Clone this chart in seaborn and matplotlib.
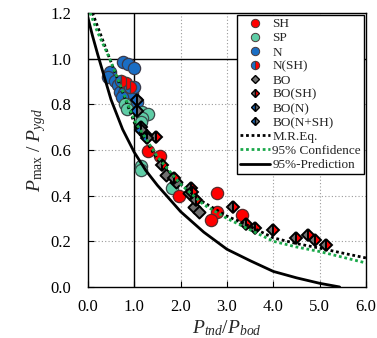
import numpy as np
import matplotlib
matplotlib.use("Agg")
import matplotlib.pyplot as plt
from matplotlib.lines import Line2D
import seaborn as sns

# data
sh_x = [1.30, 1.56, 1.97, 2.78, 2.78, 2.65, 3.33]
sh_y = [0.595, 0.575, 0.40, 0.41, 0.33, 0.295, 0.315]

sp_x = [0.80, 0.84, 1.17, 1.30, 1.17, 1.15, 1.15, 1.15, 1.82]
sp_y = [0.80, 0.78, 0.765, 0.755, 0.74, 0.72, 0.53, 0.51, 0.435]

n_x = [0.75, 0.87, 1.00, 0.47, 0.43, 0.58, 0.64, 0.70, 0.79, 0.96, 1.00, 1.05, 0.73]
n_y = [0.985, 0.975, 0.96, 0.94, 0.92, 0.90, 0.885, 0.855, 0.85, 0.85, 0.875, 0.81, 0.83]

nsh_x = [0.72, 0.83, 0.91]
nsh_y = [0.90, 0.895, 0.875]

bo_x = [1.69, 1.90, 2.18, 2.29, 2.39]
bo_y = [0.49, 0.46, 0.41, 0.35, 0.33]

bosh_x = [1.47, 1.60, 1.86, 2.22, 2.24, 2.33, 3.14, 3.42, 3.61, 4.00, 4.49, 4.74, 4.89, 5.13]
bosh_y = [0.655, 0.535, 0.478, 0.435, 0.417, 0.38, 0.35, 0.275, 0.26, 0.25, 0.215, 0.228, 0.205, 0.184]

bon_x = [1.05, 1.05, 1.15, 1.26]
bon_y = [0.82, 0.77, 0.70, 0.665]

bonsh_x = [1.15, 1.28]
bonsh_y = [0.685, 0.65]

# curves
mr_x = [0.10, 0.47, 1.0, 1.5, 2.0, 2.5, 3.0, 3.5, 4.0, 4.5, 5.0, 5.5, 6.0]
mr_y = [1.20, 1.00, 0.72, 0.56, 0.45, 0.37, 0.31, 0.265, 0.215, 0.19, 0.17, 0.148, 0.127]

conf_x = [0.05, 0.20, 0.47, 1.0, 1.5, 2.0, 2.5, 3.0, 3.5, 4.0, 4.5, 5.0, 5.5, 6.0]
conf_y = [1.20, 1.12, 1.00, 0.73, 0.57, 0.45, 0.36, 0.30, 0.25, 0.20, 0.175, 0.155, 0.13, 0.105]

pred_x = [0.0, 0.10, 0.21, 0.50, 0.75, 1.0, 1.25, 1.5, 2.0, 2.5, 3.0, 3.5, 4.0, 4.5, 5.0, 5.43]
pred_y = [1.18, 1.10, 1.02, 0.82, 0.69, 0.59, 0.51, 0.445, 0.33, 0.24, 0.165, 0.115, 0.068, 0.04, 0.016, 0.0]

x_ticks = [0, 1, 2, 3, 4, 5, 6]
y_ticks = [0.0, 0.2, 0.4, 0.6, 0.8, 1.0, 1.2]

RED = '#ff0000'
AQUA = '#5fcda6'
BLUE = '#1a6ec4'
GRAY = '#707070'
GREEN = '#1aa84a'

sns.set_style("ticks")
plt.rcParams['font.family'] = ['Liberation Serif', 'DejaVu Serif']
plt.rcParams['mathtext.fontset'] = 'custom'
plt.rcParams['mathtext.rm'] = 'Liberation Serif'
plt.rcParams['mathtext.it'] = 'Liberation Serif:italic'

fig, ax = plt.subplots(figsize=(3.77, 3.38), dpi=100)
fig.subplots_adjust(left=0.233, right=0.971, bottom=0.151, top=0.962)

# grid
for gx in x_ticks[2:-1]:
    ax.axvline(gx, color='#9a9a9a', lw=0.8, ls=(0, (1, 2)), zorder=0)
for gy in y_ticks[1:5]:
    ax.axhline(gy, color='#9a9a9a', lw=0.8, ls=(0, (1, 2)), zorder=0)
ax.axvline(1.0, color='k', lw=1.0, zorder=0.5)
ax.axhline(1.0, color='k', lw=1.0, zorder=0.5)

circ = dict(marker='o', ms=8.8, mec='#4a3a3a', mew=0.9, ls='none', zorder=3)
diam = dict(marker='D', ms=6.2, mec='k', mew=1.4, ls='none', zorder=3)

sns.scatterplot(x=n_x, y=n_y, ax=ax, marker='o', s=78, color=BLUE, edgecolor='#3a3a4a', linewidth=0.9, zorder=3)
sns.scatterplot(x=sp_x, y=sp_y, ax=ax, marker='o', s=78, color=AQUA, edgecolor='#3a4a4a', linewidth=0.9, zorder=3)
sns.scatterplot(x=sh_x, y=sh_y, ax=ax, marker='o', s=78, color=RED, edgecolor='#5a2a2a', linewidth=0.9, zorder=3)
ax.plot(nsh_x, nsh_y, fillstyle='left', mfc=BLUE, mfcalt=RED, **circ)
sns.scatterplot(x=bo_x, y=bo_y, ax=ax, marker='D', s=38, color=GRAY, edgecolor='k', linewidth=1.4, zorder=3)
ax.plot(bosh_x, bosh_y, fillstyle='left', mfc=GRAY, mfcalt=RED, **diam)
ax.plot(bon_x, bon_y, fillstyle='left', mfc=BLUE, mfcalt=GRAY, **diam)
ax.plot(bonsh_x, bonsh_y, fillstyle='left', mfc=BLUE, mfcalt=GRAY, **diam)

sns.lineplot(x=mr_x, y=mr_y, ax=ax, color='k', lw=2, linestyle=(0, (1, 1)), sort=False, estimator=None, zorder=4)
sns.lineplot(x=conf_x, y=conf_y, ax=ax, color=GREEN, lw=2, linestyle=(0, (1, 1)), sort=False, estimator=None, zorder=4)
sns.lineplot(x=pred_x, y=pred_y, ax=ax, color='k', lw=2, sort=False, estimator=None, zorder=4)

ax.set_xlim(0, 6)
ax.set_ylim(0, 1.2)
ax.set_xticks(x_ticks)
ax.set_xticklabels(['%.1f' % v for v in x_ticks])
ax.set_yticks(y_ticks)
ax.set_yticklabels(['%.1f' % v for v in y_ticks])
ax.tick_params(direction='in', length=4, width=0.8, labelsize=12, colors='k')
ax.tick_params(axis='x', pad=9)
ax.tick_params(axis='y', pad=12)
for sp in ax.spines.values():
    sp.set_color('k')
    sp.set_linewidth(1.0)
    sp.set_visible(True)

ax.set_xlabel(r'$P_{tnd}/P_{bod}$', fontsize=14, labelpad=2)
ax.set_ylabel(r'$P_{\mathrm{max}}\ /\ P_{ygd}$', fontsize=14, labelpad=2)

lc = dict(marker='o', ms=6, mec='#4a3a3a', mew=0.7, ls='none')
ld = dict(marker='D', ms=4.2, mec='k', mew=1.0, ls='none')
handles = [
    Line2D([], [], mfc=RED, **lc),
    Line2D([], [], mfc=AQUA, **lc),
    Line2D([], [], mfc=BLUE, **lc),
    Line2D([], [], fillstyle='left', mfc=BLUE, mfcalt=RED, **lc),
    Line2D([], [], mfc=GRAY, **ld),
    Line2D([], [], fillstyle='left', mfc=GRAY, mfcalt=RED, **ld),
    Line2D([], [], fillstyle='left', mfc=BLUE, mfcalt=GRAY, **ld),
    Line2D([], [], fillstyle='left', mfc=BLUE, mfcalt=GRAY, **ld),
    Line2D([], [], color='k', lw=2, ls=(0, (1, 1))),
    Line2D([], [], color=GREEN, lw=2, ls=(0, (1, 1))),
    Line2D([], [], color='k', lw=2),
]
labels = ['SH', 'SP', 'N', 'N(SH)', 'BO', 'BO(SH)', 'BO(N)', 'BO(N+SH)',
          'M.R.Eq.', '95% Confidence', '95%-Prediction']
leg = ax.legend(handles, labels, loc='upper right', bbox_to_anchor=(1, 1), borderaxespad=0.15,
                fontsize=9.5, frameon=True, fancybox=False, framealpha=1, edgecolor='k',
                handlelength=2.3, handletextpad=0.15, labelspacing=0.14, borderpad=0.25)
leg.get_frame().set_linewidth(1.0)
leg.set_zorder(10)

fig.savefig('out.png', dpi=100)
